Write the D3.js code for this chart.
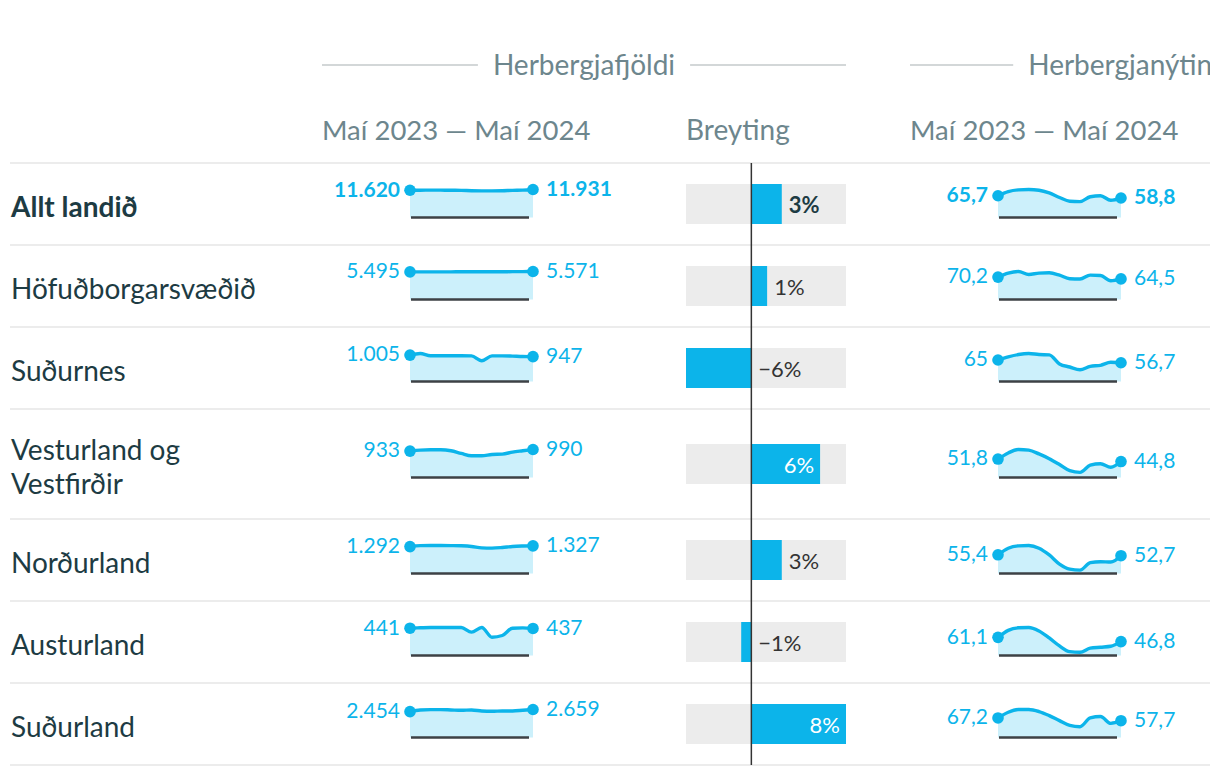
<!DOCTYPE html>
<head>
<meta charset="utf-8">
<script src="https://d3js.org/d3.v7.min.js"></script>
<style>
  body { margin: 0; background: #fff; }
  svg { display: block; }
  svg text { font-family: Lato, "Open Sans", sans-serif; }
</style>
</head>
<body>
<div class="table"></div>
<script>
// rows, one label per line
var regions = [
  ["Allt landið"],
  ["Höfuðborgarsvæðið"],
  ["Suðurnes"],
  ["Vesturland og", "Vestfirðir"],
  ["Norðurland"],
  ["Austurland"],
  ["Suðurland"]
];

var months = ["2023-05", "2023-06", "2023-07", "2023-08", "2023-09", "2023-10", "2023-11",
              "2023-12", "2024-01", "2024-02", "2024-03", "2024-04", "2024-05"];

// Herbergjafjöldi (rooms), May 2023 - May 2024
var roomsAll    = [11620, 11640, 11650, 11650, 11620, 11560, 11420, 11350, 11340, 11400, 11560, 11650, 11931];
var roomsHofud  = [5495, 5500, 5500, 5505, 5505, 5510, 5520, 5530, 5520, 5530, 5540, 5555, 5571];
var roomsSudurn = [1005, 1065, 980, 980, 980, 980, 975, 790, 975, 975, 965, 950, 947];
var roomsVestur = [933, 968, 980, 980, 945, 850, 768, 768, 815, 827, 898, 945, 990];
var roomsNordur = [1292, 1340, 1345, 1345, 1340, 1330, 1300, 1230, 1220, 1250, 1300, 1320, 1327];
var roomsAustur = [441, 447, 452, 452, 452, 452, 377, 452, 295, 323, 441, 446, 437];
var roomsSudurl = [2454, 2618, 2650, 2650, 2618, 2585, 2618, 2520, 2487, 2520, 2520, 2585, 2659];

// Herbergjanýting (occupancy %), May 2023 - May 2024
var occAll    = [65.7, 78.2, 83.4, 84.5, 82.4, 74.1, 60.5, 49.1, 48.0, 62.6, 65.7, 52.2, 58.8];
var occHofud  = [70.2, 82.6, 87.7, 78.4, 82.6, 83.6, 76.4, 65.0, 64.0, 76.4, 75.3, 58.8, 64.5];
var occSudurn = [65, 74.5, 81.6, 84.7, 81.6, 80.6, 53.0, 43.9, 35.7, 45.9, 49.0, 58.1, 56.7];
var occVestur = [51.8, 69.0, 78.6, 76.7, 66.2, 52.7, 36.4, 19.2, 14.4, 34.5, 38.4, 28.8, 44.8];
var occNordur = [55.4, 75.0, 82.0, 83.0, 75.0, 55.0, 28.0, 13.0, 10.0, 32.0, 35.0, 34.0, 52.7];
var occAustur = [61.1, 84.7, 93.3, 94.3, 82.5, 59.0, 32.2, 12.9, 10.7, 24.7, 27.9, 31.1, 46.8];
var occSudurl = [67.2, 86.9, 96.2, 96.2, 89.2, 75.3, 58.0, 41.7, 37.1, 67.2, 71.9, 48.7, 57.7];

// Breyting (change in rooms)
var change = [0.027, 0.014, -0.058, 0.061, 0.027, -0.009, 0.084];

var rooms = [roomsAll, roomsHofud, roomsSudurn, roomsVestur, roomsNordur, roomsAustur, roomsSudurl];
var occ = [occAll, occHofud, occSudurn, occVestur, occNordur, occAustur, occSudurl];

var headers = ["Herbergjafjöldi", "Herbergjanýting"];
var periodLabel = "Maí 2023 — Maí 2024";
var changeLabel = "Breyting";

var cyan = "#0cb4ea",
    areaFill = "#ccf0fb",
    dark = "#1d3b43",
    grey = "#6d868d";

var isl = d3.formatLocale({decimal: ",", thousands: ".", grouping: [3], currency: ["", " kr."]});
var fmtRooms = isl.format(",d"),
    fmtOcc = isl.format(",.1~f"),
    fmtPct = isl.format(".0%");

var width = 1210, height = 776;
var tableTop = 163, left = 11, tableRight = 1210;

// the table is cropped at its right edge, like the original
var svg = d3.select(".table").append("svg")
    .attr("width", width)
    .attr("height", height);

// row layout
var rowH = regions.map(function(r) { return r.length > 1 ? 110 : 82; });
var rowTop = [];
rowH.reduce(function(acc, h) { rowTop.push(acc); return acc + h; }, tableTop);
var tableBottom = rowTop[rowTop.length - 1] + rowH[rowH.length - 1];

// column positions
var spark1 = [410, 533],
    barCol = [686, 846],
    spark2 = [998, 1121],
    sparkH = 28;

// headers
var headerGroups = [[322, 846], [910, 1345]];
headerGroups.forEach(function(g, i) {
  var cx = (g[0] + g[1]) / 2;
  var t = svg.append("text")
      .attr("x", cx)
      .attr("y", 75)
      .attr("text-anchor", "middle")
      .attr("font-size", 28)
      .attr("fill", grey)
      .text(headers[i]);
  var w = t.node().getComputedTextLength();
  svg.append("line").attr("x1", g[0]).attr("x2", cx - w / 2 - 15)
      .attr("y1", 65).attr("y2", 65).attr("stroke", "#c5cacb").attr("stroke-width", 1.5);
  svg.append("line").attr("x1", cx + w / 2 + 15).attr("x2", g[1])
      .attr("y1", 65).attr("y2", 65).attr("stroke", "#c5cacb").attr("stroke-width", 1.5);
});

[[spark1[0] - 88, periodLabel], [barCol[0], changeLabel], [spark2[0] - 88, periodLabel]].forEach(function(d) {
  svg.append("text")
      .attr("x", d[0])
      .attr("y", 140)
      .attr("font-size", d[1] === changeLabel ? 28 : 27.5)
      .attr("fill", grey)
      .text(d[1]);
});

// separators
svg.selectAll("line.sep")
    .data([tableTop].concat(rowTop.map(function(t, i) { return t + rowH[i]; })))
    .enter().append("line")
    .attr("class", "sep")
    .attr("x1", left - 1).attr("x2", tableRight)
    .attr("y1", function(d) { return d; }).attr("y2", function(d) { return d; })
    .attr("stroke", "#ececec")
    .attr("stroke-width", 2);

var xBar = d3.scaleLinear()
    .domain(d3.extent(change))
    .range(barCol);

var xSpark1 = d3.scaleLinear().domain([0, months.length - 1]).range(spark1);
var xSpark2 = d3.scaleLinear().domain([0, months.length - 1]).range(spark2);

var rows = svg.selectAll("g.row")
    .data(regions)
    .enter().append("g")
    .attr("class", "row")
    .attr("transform", function(d, i) { return "translate(0," + (rowTop[i] + rowH[i] / 2) + ")"; });

// region names
rows.append("text")
    .attr("x", left)
    .attr("font-size", 28)
    .attr("font-weight", function(d, i) { return i === 0 ? "bold" : "normal"; })
    .attr("fill", dark)
    .each(function(d) {
      var t = d3.select(this);
      d.forEach(function(line, j) {
        t.append("tspan")
            .attr("x", left)
            .attr("y", 3 + (j - (d.length - 1) / 2) * 34)
            .attr("dy", "0.35em")
            .text(line);
      });
    });

function sparkline(g, values, xs, fmt, bold) {
  var y = d3.scaleLinear()
      .domain([0, d3.max(values)])
      .range([13.5, 13.5 - sparkH]);

  var area = d3.area()
      .x(function(d, i) { return xs(i); })
      .y0(y(0))
      .y1(function(d) { return y(d); })
      .curve(d3.curveMonotoneX);

  var line = d3.line()
      .x(function(d, i) { return xs(i); })
      .y(function(d) { return y(d); })
      .curve(d3.curveMonotoneX);

  g.append("path").attr("d", area(values)).attr("fill", areaFill);
  g.append("line")
      .attr("x1", xs.range()[0] + 1).attr("x2", xs.range()[1] - 4)
      .attr("y1", y(0)).attr("y2", y(0))
      .attr("stroke", "#3d4145").attr("stroke-width", 2.5);
  g.append("path").attr("d", line(values))
      .attr("fill", "none").attr("stroke", cyan).attr("stroke-width", 3.4)
      .attr("stroke-linejoin", "round");

  var ends = [0, values.length - 1];
  g.selectAll("circle.end")
      .data(ends)
      .enter().append("circle")
      .attr("class", "end")
      .attr("cx", function(i) { return xs(i); })
      .attr("cy", function(i) { return y(values[i]); })
      .attr("r", 5.8)
      .attr("fill", cyan);

  g.selectAll("text.val")
      .data(ends)
      .enter().append("text")
      .attr("class", "val")
      .attr("x", function(i, k) { return k === 0 ? xs(i) - 10 : xs(i) + 13; })
      .attr("y", function(i) { return y(values[i]) - 1; })
      .attr("dy", "0.35em")
      .attr("text-anchor", function(i, k) { return k === 0 ? "end" : "start"; })
      .attr("font-size", 21)
      .attr("font-weight", bold ? "bold" : "normal")
      .attr("fill", cyan)
      .text(function(i) { return fmt(values[i]); });
}

rows.each(function(d, i) {
  var g = d3.select(this);
  sparkline(g.append("g"), rooms[i], xSpark1, fmtRooms, i === 0);
  sparkline(g.append("g"), occ[i], xSpark2, fmtOcc, i === 0);

  // change bar
  var v = change[i];
  g.append("rect")
      .attr("x", barCol[0]).attr("y", -20)
      .attr("width", barCol[1] - barCol[0]).attr("height", 40)
      .attr("fill", "#ececec");
  g.append("rect")
      .attr("x", Math.min(xBar(0), xBar(v))).attr("y", -20)
      .attr("width", Math.abs(xBar(v) - xBar(0))).attr("height", 40)
      .attr("fill", cyan);

  var inside = v > 0 && xBar(v) + 45 > barCol[1];
  g.append("text")
      .attr("x", v < 0 ? xBar(0) + 7 : (inside ? xBar(v) - 6 : xBar(v) + 7))
      .attr("y", 1)
      .attr("dy", "0.35em")
      .attr("text-anchor", inside ? "end" : "start")
      .attr("font-size", 22)
      .attr("font-weight", i === 0 ? "bold" : "normal")
      .attr("fill", inside ? "#fff" : (i === 0 ? dark : "#333"))
      .text(fmtPct(v));
});

// zero line for the change bars
svg.append("line")
    .attr("x1", xBar(0)).attr("x2", xBar(0))
    .attr("y1", tableTop).attr("y2", tableBottom)
    .attr("stroke", "#333")
    .attr("stroke-width", 1.5);
</script>
</body>
